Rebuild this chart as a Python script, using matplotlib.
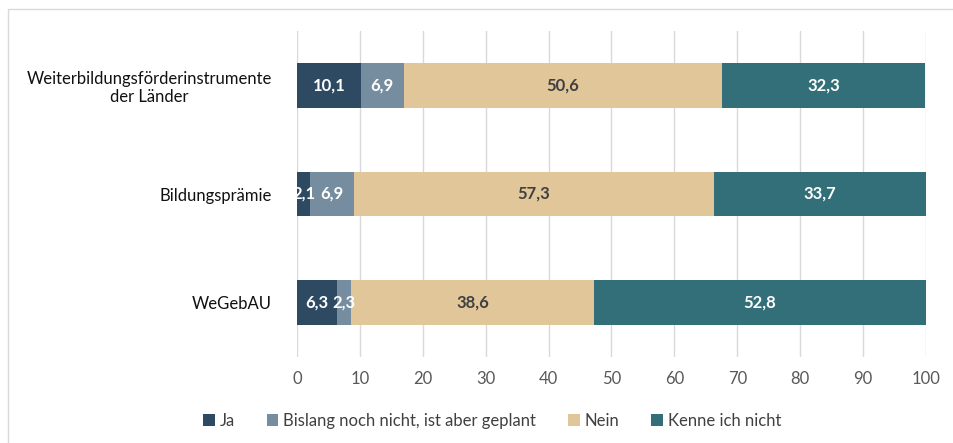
import matplotlib
matplotlib.use("Agg")
import matplotlib.pyplot as plt
from matplotlib.patches import Rectangle

# data
categories = ["Weiterbildungsförderinstrumente\nder Länder", "Bildungsprämie", "WeGebAU"]
series_names = ["Ja", "Bislang noch nicht, ist aber geplant", "Nein", "Kenne ich nicht"]
ja = [10.1, 2.1, 6.3]
geplant = [6.9, 6.9, 2.3]
nein = [50.6, 57.3, 38.6]
kenne_nicht = [32.3, 33.7, 52.8]
xticks = [0, 10, 20, 30, 40, 50, 60, 70, 80, 90, 100]

colors = ["#2E4A63", "#768DA0", "#E0C699", "#336F78"]
label_colors = ["white", "white", "#404040", "white"]

plt.rcParams["font.family"] = ["Lato", "DejaVu Sans"]

fig = plt.figure(figsize=(9.54, 4.43), dpi=100)
ax = fig.add_axes([297 / 954, 86 / 443, 629 / 954, 326 / 443])

# chart border (only left/top visible in the crop)
fig.patches.append(Rectangle((8 / 954, -0.1), 1.2, 1.1 - 9 / 443,
                             transform=fig.transFigure, fill=False,
                             edgecolor="#D9D9D9", linewidth=1.0))

ypos = [2, 1, 0]
left = [0, 0, 0]
for vals, name, col, lc in zip([ja, geplant, nein, kenne_nicht], series_names, colors, label_colors):
    bars = ax.barh(ypos, vals, left=left, height=0.41, color=col, label=name, zorder=3)
    for b, v, l in zip(bars, vals, left):
        ax.text(l + v / 2, b.get_y() + b.get_height() / 2, f"{v:.1f}".replace(".", ","),
                ha="center", va="center", color=lc, fontsize=12, fontweight="bold", zorder=4)
    left = [a + b for a, b in zip(left, vals)]

ax.set_xlim(0, 100)
ax.set_ylim(-0.5, 2.5)
ax.set_xticks(xticks)
ax.set_yticks(ypos)
ax.set_yticklabels(categories, fontsize=12, color="#111111")
for t in ax.get_yticklabels():
    t.set_multialignment("center")
ax.tick_params(axis="y", length=0, pad=18)
ax.tick_params(axis="x", length=0, pad=10, labelsize=12, labelcolor="#595959")
ax.grid(axis="x", color="#D9D9D9", linewidth=1, zorder=0)
for s in ax.spines.values():
    s.set_visible(False)

fig.legend(loc="center", bbox_to_anchor=(492 / 954, 22 / 443), ncol=4, frameon=False,
           fontsize=12, handlelength=0.7, handleheight=0.7, handletextpad=0.3,
           columnspacing=1.9, labelcolor="#404040")

fig.savefig("out.png", dpi=100)
